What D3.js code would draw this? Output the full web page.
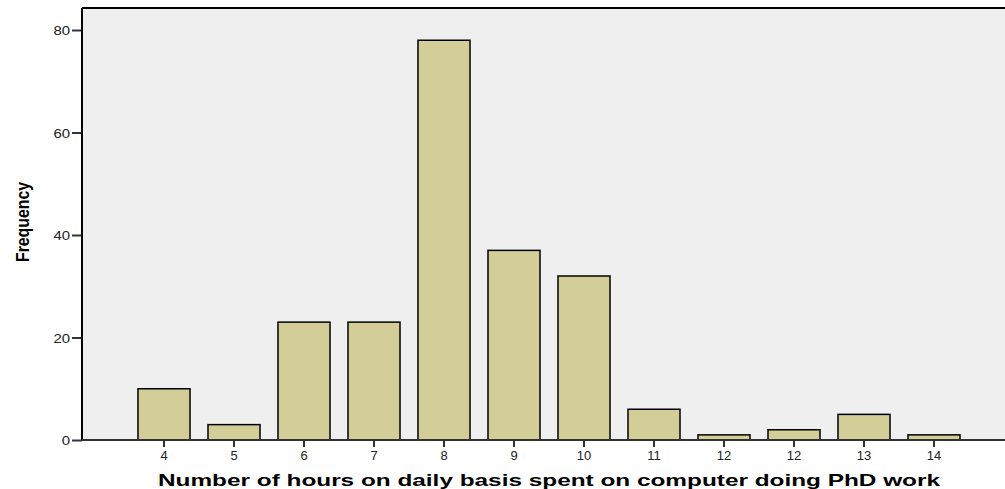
<!DOCTYPE html>
<html>
<head>
<meta charset="utf-8">
<script src="https://cdn.jsdelivr.net/npm/d3@7"></script>
<style>
  body { margin: 0; background: #fff; }
  svg { display: block; }
</style>
</head>
<body>
<svg id="chart" width="1005" height="489"></svg>
<script>
// hours categories (the source really has two "12" bars)
let hourLabels = ["4", "5", "6", "7", "8", "9", "10", "11", "12", "12", "13", "14"];
let frequencies = [10, 3, 23, 23, 78, 37, 32, 6, 1, 2, 5, 1];
let yTicks = [0, 20, 40, 60, 80];

let svg = d3.select("svg#chart");
let plot = { left: 82, top: 8, right: 1010, bottom: 440 };

let xScale = d3.scaleBand()
    .domain(d3.range(hourLabels.length))
    .range([129, 129 + 70 * hourLabels.length])
    .paddingInner(0.257)
    .paddingOuter(0.1285);
let yScale = d3.scaleLinear().domain([0, 80]).range([plot.bottom, 30]);

// plot background
svg.append("rect")
    .attr("x", plot.left)
    .attr("y", plot.top)
    .attr("width", plot.right - plot.left)
    .attr("height", plot.bottom - plot.top)
    .attr("fill", "#efefef");

// bars
svg.append("g").selectAll("rect")
    .data(frequencies)
    .join("rect")
    .attr("x", (d, i) => xScale(i))
    .attr("y", d => yScale(d))
    .attr("width", xScale.bandwidth())
    .attr("height", d => yScale(0) - yScale(d))
    .attr("fill", "#d3ce98")
    .attr("stroke", "#000")
    .attr("stroke-width", 1.5);

// top border
svg.append("line")
    .attr("x1", plot.left).attr("x2", plot.right)
    .attr("y1", plot.top).attr("y2", plot.top)
    .attr("stroke", "#000").attr("stroke-width", 2);

// y axis
let yAxis = d3.axisLeft(yScale).tickValues(yTicks).tickSize(10).tickPadding(2);
let yG = svg.append("g")
    .attr("transform", "translate(" + plot.left + ",0)")
    .call(yAxis);
yG.select("path.domain").remove();
yG.selectAll(".tick line").attr("stroke", "#333").attr("stroke-width", 2);
yG.selectAll(".tick text")
    .style("font-family", "'Liberation Sans', Arial, sans-serif")
    .style("font-size", "13px")
    .attr("fill", "#222")
    .attr("transform", "scale(1.15,1)")
    .attr("x", -12 / 1.15)
    .attr("dy", "0.35em");
svg.append("line")
    .attr("x1", plot.left).attr("x2", plot.left)
    .attr("y1", plot.top).attr("y2", plot.bottom)
    .attr("stroke", "#000").attr("stroke-width", 2);

// x axis
let xAxis = d3.axisBottom(xScale).tickFormat(i => hourLabels[i]).tickSize(7).tickPadding(4);
let xG = svg.append("g")
    .attr("transform", "translate(0," + plot.bottom + ")")
    .call(xAxis);
xG.select("path.domain").remove();
xG.selectAll(".tick line").attr("stroke", "#333").attr("stroke-width", 2);
xG.selectAll(".tick text")
    .style("font-family", "'Liberation Sans', Arial, sans-serif")
    .style("font-size", "13px")
    .attr("fill", "#222");
svg.append("line")
    .attr("x1", plot.left).attr("x2", plot.right)
    .attr("y1", plot.bottom).attr("y2", plot.bottom)
    .attr("stroke", "#333").attr("stroke-width", 2);

// axis titles
svg.append("text")
    .attr("x", 549)
    .attr("y", 486)
    .attr("text-anchor", "middle")
    .attr("textLength", 782)
    .attr("lengthAdjust", "spacingAndGlyphs")
    .style("font-family", "'Liberation Sans', Arial, sans-serif")
    .style("font-weight", "bold")
    .style("font-size", "17px")
    .text("Number of hours on daily basis spent on computer doing PhD work");

svg.append("text")
    .attr("transform", "translate(29,222)rotate(-90)")
    .attr("text-anchor", "middle")
    .attr("textLength", 80)
    .attr("lengthAdjust", "spacingAndGlyphs")
    .style("font-family", "'Liberation Sans Narrow', 'Liberation Sans', Arial, sans-serif")
    .style("font-weight", "bold")
    .style("font-size", "18px")
    .text("Frequency");
</script>
</body>
</html>
